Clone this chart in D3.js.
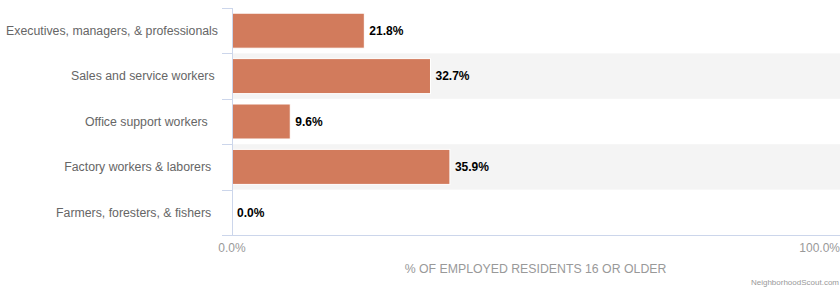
<!DOCTYPE html>
<html><head><meta charset="utf-8">
<script src="https://cdn.jsdelivr.net/npm/d3@7"></script>
<style>
body{margin:0;background:#fff;}
svg{font-family:"Liberation Sans",Arial,Helvetica,sans-serif;display:block;}
text{white-space:pre;}
</style></head><body>
<svg id="c" width="840" height="288"></svg>
<script>
const categories = ["Executives, managers, & professionals","Sales and service workers ","Office support workers   ","Factory workers & laborers  ","Farmers, foresters, & fishers  "];
const values = [21.8, 32.7, 9.6, 35.9, 0.0];
const xTicks = [0, 100];
const axisTitle = "% OF EMPLOYED RESIDENTS 16 OR OLDER";
const credit = "NeighborhoodScout.com";

(function(){
const svg = d3.select("#c");
const pl = 232, pr = 839, pt = 8, pb = 235;
const x = d3.scaleLinear().domain([0,100]).range([pl, pr]);
const y = d3.scaleBand().domain(categories).range([pt, pb]);

svg.append("g").selectAll("rect").data(categories.filter((d,i)=>i%2===1)).join("rect")
  .attr("x", pl).attr("width", 840-pl)
  .attr("y", d=>y(d)).attr("height", y.bandwidth())
  .attr("fill", "#f4f4f4");

const bh = 35;
svg.append("g").selectAll("rect").data(values).join("rect")
  .attr("x", x(0)).attr("y", (d,i)=>y(categories[i]) + (y.bandwidth()-bh)/2)
  .attr("width", d=>x(d)-x(0)).attr("height", bh)
  .attr("fill", "#d27b5c").attr("stroke", "#fff").attr("stroke-width", 1);

svg.append("g").selectAll("text").data(values).join("text")
  .attr("x", d=>x(d)+5).attr("y", (d,i)=>y(categories[i]) + y.bandwidth()/2)
  .attr("dy", "0.35em").attr("font-size", 12).attr("font-weight", "bold").attr("fill", "#000")
  .text(d=>d.toFixed(1)+"%");

svg.append("line").attr("x1", pl+0.5).attr("x2", pl+0.5).attr("y1", pt).attr("y2", pb)
  .attr("stroke", "#ccd6eb");
const bounds = categories.map(c=>y(c));
svg.append("g").selectAll("line").data(bounds).join("line")
  .attr("x1", pl-10).attr("x2", pl).attr("y1", d=>Math.round(d)+0.5).attr("y2", d=>Math.round(d)+0.5)
  .attr("stroke", "#ccd6eb");
svg.append("line").attr("x1", pl-10).attr("x2", 840).attr("y1", pb+0.5).attr("y2", pb+0.5)
  .attr("stroke", "#ccd6eb");

svg.append("g").selectAll("text").data(categories).join("text")
  .attr("x", pl-14).attr("y", d=>y(d)+y.bandwidth()/2).attr("dy","0.35em")
  .attr("text-anchor","end").attr("font-size", 12.3).attr("fill", "#666").text(d=>d);

svg.append("g").selectAll("text").data(xTicks).join("text")
  .attr("x", d=> d===100 ? 840 : x(d)).attr("y", 252)
  .attr("text-anchor", d=> d===100 ? "end" : "middle")
  .attr("font-size", 12).attr("fill", "#999").text(d=>d.toFixed(1)+"%");

svg.append("text").attr("x", (pl+pr)/2).attr("y", 273).attr("text-anchor","middle")
  .attr("font-size", 12.3).attr("fill", "#999").text(axisTitle);

svg.append("text").attr("x", 839).attr("y", 285).attr("text-anchor","end")
  .attr("font-size", 8).attr("fill", "#999").text(credit);
})();
</script></body></html>
